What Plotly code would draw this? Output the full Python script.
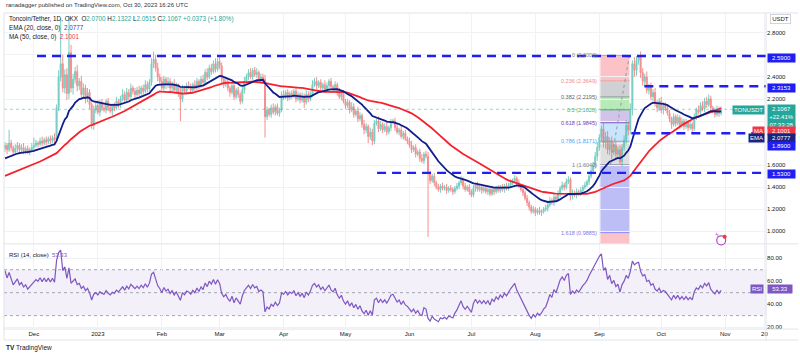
import pandas as pd
import numpy as np
import plotly.graph_objects as go

W, H = 800, 357
FONT = "Liberation Sans, Arial, sans-serif"

# ---------------- data ----------------
# closes before the visible window (used only for the moving averages / RSI warm-up)
pre_close = [1.36, 1.38, 1.35, 1.37, 1.40, 1.38, 1.36, 1.39, 1.41, 1.38,
             1.37, 1.40, 1.36, 1.35, 1.38, 1.40, 1.39, 1.37, 1.36, 1.39,
             1.41, 1.38, 1.40, 1.37, 1.39, 1.42, 1.46, 1.44, 1.48, 1.52,
             1.50, 1.55, 1.53, 1.58, 1.56, 1.60, 1.63, 1.59, 1.64, 1.62,
             1.67, 1.65, 1.70, 1.68, 1.72, 1.70, 1.75, 1.73, 1.77, 1.75]

# daily closes, 2022-11-17 .. 2023-10-30
close_vals = [
    1.78, 1.74, 1.80, 1.76, 1.72, 1.75, 1.78, 1.74, 1.76, 1.73,
    1.75, 1.72, 1.74, 1.76, 1.78, 1.80, 1.79, 1.82, 1.80, 1.83,
    1.81, 1.84, 1.82, 1.85, 1.83, 2.12, 2.40, 2.52, 2.30, 2.42,
    2.25, 2.62, 2.30, 2.38, 2.45, 2.32, 2.36, 2.24, 2.30, 2.20,
    2.26, 2.15, 1.96, 2.10, 2.14, 2.08, 2.16, 2.12, 2.10, 2.18,
    2.12, 2.09, 2.14, 2.12, 2.18, 2.15, 2.20, 2.24, 2.19, 2.26,
    2.22, 2.30, 2.27, 2.24, 2.28, 2.25, 2.30, 2.27, 2.33, 2.29,
    2.35, 2.52, 2.56, 2.48, 2.40, 2.36, 2.30, 2.38, 2.33, 2.36,
    2.30, 2.34, 2.28, 2.32, 2.26, 2.20, 2.30, 2.27, 2.32, 2.31,
    2.28, 2.33, 2.30, 2.36, 2.32, 2.38, 2.35, 2.44, 2.40, 2.48,
    2.45, 2.52, 2.47, 2.54, 2.50, 2.38, 2.33, 2.36, 2.30, 2.26,
    2.32, 2.22, 2.28, 2.24, 2.18, 2.28, 2.36, 2.40, 2.44, 2.40,
    2.46, 2.42, 2.44, 2.38, 2.40, 2.38, 2.04, 2.10, 2.06, 2.12,
    2.08, 2.13, 2.07, 2.10, 2.24, 2.22, 2.26, 2.21, 2.25, 2.23,
    2.27, 2.20, 2.24, 2.19, 2.23, 2.17, 2.24, 2.20, 2.25, 2.33,
    2.36, 2.32, 2.35, 2.30, 2.33, 2.29, 2.32, 2.36, 2.31, 2.29,
    2.33, 2.26, 2.22, 2.25, 2.18, 2.14, 2.17, 2.10, 2.13, 2.06,
    2.09, 2.02, 2.05, 1.97, 1.92, 1.95, 1.86, 1.90, 1.82, 1.98,
    2.00, 1.93, 1.97, 1.92, 1.95, 1.90, 1.94, 1.99, 2.00, 1.94,
    1.90, 1.92, 1.86, 1.89, 1.84, 1.82, 1.78, 1.74, 1.76, 1.70,
    1.72, 1.66, 1.64, 1.70, 1.68, 1.52, 1.46, 1.50, 1.44, 1.40,
    1.38, 1.41, 1.39, 1.40, 1.37, 1.39, 1.38, 1.36, 1.39, 1.41,
    1.44, 1.47, 1.41, 1.38, 1.40, 1.36, 1.33, 1.39, 1.42, 1.38,
    1.40, 1.37, 1.39, 1.36, 1.38, 1.34, 1.38, 1.36, 1.39, 1.37,
    1.40, 1.38, 1.41, 1.39, 1.42, 1.44, 1.46, 1.48, 1.44, 1.41,
    1.38, 1.35, 1.30, 1.26, 1.22, 1.18, 1.20, 1.17, 1.19, 1.17,
    1.18, 1.20, 1.21, 1.24, 1.28, 1.26, 1.31, 1.29, 1.34, 1.39,
    1.42, 1.40, 1.45, 1.47, 1.32, 1.35, 1.33, 1.36, 1.34, 1.37,
    1.40, 1.42, 1.45, 1.50, 1.55, 1.60, 1.68, 1.76, 1.85, 1.93,
    1.80, 1.86, 1.74, 1.82, 1.72, 1.78, 1.70, 1.74, 1.63, 1.76,
    1.83, 1.96, 1.92, 2.10, 2.52, 2.46, 2.55, 2.58, 2.44, 2.36,
    2.40, 2.28, 2.31, 2.22, 2.26, 2.16, 2.12, 2.18, 2.10, 2.14,
    2.12, 2.07, 2.02, 1.97, 2.04, 1.98, 2.03, 1.96, 2.00, 1.95,
    1.99, 1.94, 1.97, 1.93, 2.04, 2.10, 2.08, 2.14, 2.11, 2.18,
    2.15, 2.20, 2.12, 2.09, 2.06, 2.11, 2.0694, 2.1067]

upper_wick = [
    .03, .02, .12, .03, .02, .04, .03, .02, .03, .04,
    .02, .03, .02, .04, .07, .03, .02, .03, .04, .02,
    .03, .02, .03, .02, .04, .03, .06, .41, .08, .05,
    .06, .33, .07, .05, .04, .06, .03, .05, .04, .03,
    .04, .03, .02, .04, .03, .05, .03, .04, .03, .02,
    .03, .04, .02, .03, .04, .02, .03, .05, .03, .04,
    .03, .04, .02, .03, .03, .04, .02, .03, .04, .03,
    .03, .05, .07, .04, .05, .03, .04, .03, .02, .04,
    .03, .02, .04, .03, .02, .04, .03, .02, .03, .04,
    .03, .02, .04, .03, .02, .03, .04, .03, .04, .03,
    .04, .03, .05, .03, .04, .03, .02, .04, .03, .02,
    .03, .04, .02, .03, .02, .03, .04, .03, .03, .04,
    .02, .03, .04, .02, .03, .03, .04, .03, .02, .03,
    .04, .02, .03, .02, .03, .04, .02, .03, .02, .03,
    .02, .04, .03, .02, .03, .02, .04, .03, .02, .04,
    .03, .04, .02, .03, .02, .04, .03, .02, .03, .02,
    .03, .02, .04, .02, .03, .02, .03, .02, .04, .03,
    .02, .04, .03, .02, .04, .03, .02, .04, .03, .03,
    .02, .04, .03, .02, .03, .04, .02, .03, .02, .03,
    .03, .02, .04, .02, .03, .02, .03, .04, .02, .03,
    .02, .03, .04, .02, .03, .04, .03, .02, .03, .02,
    .03, .02, .03, .02, .03, .02, .03, .02, .02, .03,
    .02, .03, .02, .03, .02, .03, .02, .03, .02, .03,
    .02, .03, .02, .03, .02, .02, .03, .02, .02, .03,
    .02, .03, .02, .03, .02, .03, .02, .03, .02, .03,
    .02, .03, .02, .03, .02, .02, .03, .02, .02, .03,
    .02, .02, .03, .02, .03, .02, .03, .02, .03, .02,
    .03, .02, .03, .03, .02, .03, .02, .03, .02, .03,
    .02, .03, .02, .03, .04, .03, .04, .05, .03, .03,
    .06, .04, .05, .03, .04, .03, .04, .03, .04, .03,
    .04, .05, .04, .06, .03, .06, .04, .02, .05, .04,
    .03, .05, .03, .04, .03, .04, .03, .03, .04, .03,
    .03, .02, .03, .02, .03, .02, .03, .02, .03, .02,
    .03, .02, .03, .02, .03, .02, .04, .03, .04, .03,
    .04, .04, .03, .02, .03, .03, .02, .0255]

lower_wick = [
    .03, .04, .02, .03, .04, .02, .03, .04, .02, .03,
    .03, .02, .03, .02, .03, .02, .03, .02, .03, .02,
    .03, .02, .03, .02, .03, .02, .03, .04, .04, .05,
    .06, .05, .04, .06, .04, .05, .04, .05, .04, .04,
    .03, .04, .03, .04, .03, .02, .04, .03, .02, .03,
    .03, .02, .04, .03, .02, .03, .03, .02, .03, .02,
    .03, .02, .03, .04, .02, .03, .02, .03, .02, .03,
    .02, .03, .04, .03, .04, .03, .02, .03, .04, .03,
    .03, .04, .02, .03, .04, .20, .03, .02, .03, .02,
    .03, .02, .03, .02, .03, .02, .03, .02, .03, .02,
    .03, .02, .03, .02, .03, .04, .03, .02, .03, .04,
    .02, .03, .02, .03, .03, .02, .03, .02, .03, .02,
    .03, .02, .03, .02, .03, .04, .19, .03, .02, .03,
    .02, .03, .02, .03, .02, .03, .02, .03, .02, .03,
    .02, .03, .02, .03, .02, .05, .02, .03, .02, .03,
    .02, .03, .02, .03, .02, .03, .02, .03, .02, .03,
    .02, .03, .02, .03, .02, .03, .02, .03, .02, .03,
    .02, .03, .02, .03, .04, .03, .06, .03, .04, .03,
    .02, .03, .02, .03, .02, .03, .02, .03, .02, .03,
    .02, .03, .02, .03, .02, .03, .02, .03, .02, .03,
    .02, .03, .02, .03, .02, .57, .03, .02, .03, .02,
    .02, .03, .02, .02, .03, .02, .02, .03, .02, .02,
    .03, .02, .03, .02, .02, .03, .02, .02, .03, .02,
    .02, .03, .02, .02, .03, .02, .02, .03, .02, .02,
    .02, .02, .03, .02, .02, .03, .02, .02, .03, .02,
    .02, .03, .02, .03, .03, .02, .02, .03, .02, .02,
    .03, .02, .02, .03, .02, .02, .03, .02, .02, .03,
    .02, .03, .02, .02, .04, .03, .02, .03, .02, .02,
    .03, .02, .02, .03, .02, .03, .03, .04, .03, .04,
    .04, .05, .04, .05, .04, .03, .04, .03, .026, .04,
    .03, .04, .05, .04, .05, .06, .05, .04, .05, .04,
    .04, .03, .04, .03, .04, .03, .04, .03, .03, .04,
    .03, .02, .03, .04, .02, .03, .02, .03, .02, .03,
    .02, .03, .02, .03, .02, .03, .02, .03, .02, .03,
    .03, .02, .03, .02, .03, .02, .03, .0185]

history_start = "2022-09-28"

# horizontal support / resistance levels (price, start date)
sr_levels = [2.59, 2.3153, 1.89, 1.53]
sr_starts = ["2022-12-02 12:00", "2023-09-22 19:00", "2023-09-16 12:00", "2023-05-16 07:00"]
sr_labels = ["2.5900", "2.3153", "1.8900", "1.5300"]

# Fibonacci retracement
fib_high, fib_low = 2.60, 1.604
fib_ratios = [0, 0.236, 0.382, 0.5, 0.618, 0.786, 1, 1.618]
fib_text_colors = ["#787b86", "#f28b8b", "#5d606b", "#4caf50", "#673ab7", "#42a5f5", "#787b86", "#7b7bef"]
fib_line_colors = ["#787b86", "#f7a1a1", "#9598a1", "#4caf50", "#7e57c2", "#64b5f6", "#9598a1", "#8c8cf2"]
fib_fills = ["rgba(242,54,69,0.30)", "rgba(120,123,134,0.35)", "rgba(76,200,80,0.40)",
             "rgba(103,58,183,0.30)", "rgba(100,181,246,0.35)", "rgba(150,150,150,0.30)",
             "rgba(70,70,230,0.35)", "rgba(242,54,69,0.30)"]
fib_x0, fib_x1 = "2023-09-01 12:00", "2023-09-15 14:00"
fib_trend_start = "2023-09-06 10:00"

x_tick_dates = ["2022-12-01", "2023-01-01", "2023-02-01", "2023-03-01", "2023-04-01",
                "2023-05-01", "2023-06-01", "2023-07-01", "2023-08-01", "2023-09-01",
                "2023-10-01", "2023-11-01", "2023-11-20"]
x_tick_text = ["Dec", "2023", "Feb", "Mar", "Apr", "May", "Jun", "Jul", "Aug", "Sep",
               "Oct", "Nov", "20"]

price_ticks = [1.0, 1.2, 1.4, 1.6, 1.8, 2.0, 2.2, 2.4, 2.6, 2.8]
price_tick_text = ["1.0000", "1.2000", "1.4000", "1.6000", "", "", "2.2000", "2.4000", "", "2.8000"]
rsi_ticks = [20, 40, 60, 80]
rsi_tick_text = ["20.00", "40.00", "60.00", "80.00"]

header_text = "ranadagger published on TradingView.com, Oct 30, 2023 16:26 UTC"
ohlc_text = ["2.0700", "2.1322", "2.0515", "2.1067", "+0.0373 (+1.80%)"]
ema_value, ma_value, rsi_value = "2.0777", "2.1001", "53.33"
last_price = 2.1067
price_box = ["2.1067", "+22.41%", "07:33:28"]

# ---------------- computations ----------------
all_close = pre_close + close_vals
dates = pd.date_range(history_start, periods=len(all_close), freq="D")
cs = pd.Series(all_close, index=dates)
op = cs.shift(1)
op.iloc[0] = cs.iloc[0]
ema = cs.ewm(span=20, adjust=False).mean()
ma = cs.rolling(50, min_periods=1).mean()
delta = cs.diff().fillna(0)
gain = delta.clip(lower=0)
loss = -delta.clip(upper=0)
ag = gain.ewm(alpha=1 / 14, adjust=False).mean()
al = loss.ewm(alpha=1 / 14, adjust=False).mean()
rsi = 100 - 100 / (1 + ag / al)

n_pre = len(pre_close)
vd = dates[n_pre:]
vo = op.values[n_pre:]
vc = cs.values[n_pre:]
vh = np.maximum(vo, vc) + np.array(upper_wick)
vl = np.minimum(vo, vc) - np.array(lower_wick)

# ---------------- layout geometry (pixels) ----------------
def py(p):
    return 1 - p / H

def pxx(p):
    return p / W

AX_X = 768          # left edge of price scale
MAIN_TOP, MAIN_BOT = 13, 244.5
RSI_TOP, RSI_BOT = 244.5, 330
x_left = pd.Timestamp("2022-11-16 12:30")
x_right = pd.Timestamp("2023-11-20 19:00")

fig = go.Figure()
fig.add_trace(go.Candlestick(
    x=vd, open=vo, high=vh, low=vl, close=vc,
    increasing=dict(line=dict(color="#4cbcae", width=1), fillcolor="#4cbcae"),
    decreasing=dict(line=dict(color="#f26b69", width=1), fillcolor="#f26b69"),
    whiskerwidth=0, opacity=0.75, xaxis="x", yaxis="y", showlegend=False,
    hoverinfo="skip"))
fig.add_trace(go.Scatter(x=vd, y=ma.values[n_pre:], mode="lines",
                         line=dict(color="#f5222d", width=1.8), xaxis="x", yaxis="y",
                         showlegend=False, hoverinfo="skip"))
fig.add_trace(go.Scatter(x=vd, y=ema.values[n_pre:], mode="lines",
                         line=dict(color="#101e8a", width=1.8), xaxis="x", yaxis="y",
                         showlegend=False, hoverinfo="skip"))
fig.add_trace(go.Scatter(x=vd, y=rsi.values[n_pre:], mode="lines",
                         line=dict(color="#7e57c2", width=1.2), xaxis="x2", yaxis="y2",
                         showlegend=False, hoverinfo="skip"))

shapes = []
anns = []
GRID = "#f0f2f6"
BORDER = "#e0e3eb"

# RSI band and guide lines
shapes.append(dict(type="rect", xref="paper", yref="y2", x0=pxx(4), x1=pxx(AX_X), y0=30, y1=70,
                   fillcolor="rgba(126,87,194,0.09)", line=dict(width=0), layer="below"))
for lv in (70, 50, 30):
    shapes.append(dict(type="line", xref="paper", yref="y2", x0=pxx(4), x1=pxx(AX_X), y0=lv, y1=lv,
                       line=dict(color="#a3a6af", width=1, dash="dot"), layer="below"))

# Fibonacci boxes
fib_prices = [fib_high - r * (fib_high - fib_low) for r in fib_ratios]
bounds = fib_prices + [0.5]
for i in range(len(fib_prices)):
    shapes.append(dict(type="rect", xref="x", yref="y", x0=fib_x0, x1=fib_x1,
                       y0=bounds[i + 1], y1=bounds[i], fillcolor=fib_fills[i],
                       line=dict(width=0), layer="below"))
for i, p in enumerate(fib_prices):
    shapes.append(dict(type="line", xref="x", yref="y", x0=fib_x0, x1=fib_x1, y0=p, y1=p,
                       line=dict(color=fib_line_colors[i], width=1), layer="below"))
    anns.append(dict(text=f"{fib_ratios[i]:g} ({p:.4f})", xref="x", yref="y", x=fib_x0, y=p,
                     xanchor="right", yanchor="middle", xshift=-1, showarrow=False,
                     font=dict(size=5.5, color=fib_text_colors[i], family=FONT)))
shapes.append(dict(type="line", xref="x", yref="y", x0=fib_trend_start, x1=fib_x1,
                   y0=fib_low, y1=fib_high, line=dict(color="#9598a1", width=1, dash="dot")))

# last price line
shapes.append(dict(type="line", xref="paper", yref="y", x0=pxx(4), x1=pxx(AX_X),
                   y0=last_price, y1=last_price,
                   line=dict(color="rgba(38,166,154,0.45)", width=1, dash="dot")))

# support / resistance dashed lines
for lv, st in zip(sr_levels, sr_starts):
    shapes.append(dict(type="line", xref="x", yref="y", x0=st, x1=x_right, y0=lv, y1=lv,
                       line=dict(color="#1e1ef5", width=2.4, dash="9px,6px"), layer="above"))

# frame
for yy in (MAIN_TOP, MAIN_BOT, RSI_BOT, 341):
    shapes.append(dict(type="line", xref="paper", yref="paper", x0=pxx(4), x1=1,
                       y0=py(yy), y1=py(yy), line=dict(color=BORDER, width=1)))
for xx in (4, AX_X):
    shapes.append(dict(type="line", xref="paper", yref="paper", x0=pxx(xx), x1=pxx(xx),
                       y0=py(341), y1=py(MAIN_TOP), line=dict(color=BORDER, width=1)))

# event icon
shapes.append(dict(type="circle", xref="paper", yref="paper",
                   x0=pxx(718.5), x1=pxx(727.5), y0=py(245.5), y1=py(236.5),
                   line=dict(color="#b04bc8", width=1.2), fillcolor="white"))
shapes.append(dict(type="circle", xref="paper", yref="paper",
                   x0=pxx(724.5), x1=pxx(728.5), y0=py(239.5), y1=py(235.5),
                   line=dict(width=0), fillcolor="#f23645"))
anns.append(dict(text="ϟ", xref="paper", yref="paper", x=pxx(723), y=py(241), showarrow=False,
                 font=dict(size=6, color="#b04bc8", family="DejaVu Sans")))

# header & legends
anns.append(dict(text=header_text, xref="paper", yref="paper", x=pxx(4), y=py(5.5),
                 xanchor="left", yanchor="middle", showarrow=False,
                 font=dict(size=6, color="#333333", family=FONT)))
tc = "#26a69a"
l1 = ("Toncoin/Tether, 1D, OKX  "
      f"O<span style='color:{tc}'>{ohlc_text[0]}</span> "
      f"H<span style='color:{tc}'>{ohlc_text[1]}</span> "
      f"L<span style='color:{tc}'>{ohlc_text[2]}</span> "
      f"C<span style='color:{tc}'>{ohlc_text[3]}</span> "
      f"<span style='color:{tc}'>{ohlc_text[4]}</span>")
anns.append(dict(text=l1, xref="paper", yref="paper", x=pxx(7), y=py(19.5), xanchor="left",
                 yanchor="middle", showarrow=False, font=dict(size=6.3, color="#131722", family=FONT)))
anns.append(dict(text=f"EMA (20, close, 0)  <span style='color:#2a3cc0'>{ema_value}</span>",
                 xref="paper", yref="paper", x=pxx(7), y=py(28.5), xanchor="left", yanchor="middle",
                 showarrow=False, font=dict(size=6.3, color="#131722", family=FONT)))
anns.append(dict(text=f"MA (50, close, 0)  <span style='color:#f23645'>{ma_value}</span>",
                 xref="paper", yref="paper", x=pxx(7), y=py(37.5), xanchor="left", yanchor="middle",
                 showarrow=False, font=dict(size=6.3, color="#131722", family=FONT)))
anns.append(dict(text=f"RSI (14, close)  <span style='color:#7e57c2'>{rsi_value}</span>",
                 xref="paper", yref="paper", x=pxx(7), y=py(255.5), xanchor="left", yanchor="middle",
                 showarrow=False, font=dict(size=6, color="#131722", family=FONT)))
anns.append(dict(text="<b>TV</b> TradingView", xref="paper", yref="paper", x=pxx(4), y=py(349),
                 xanchor="left", yanchor="middle", showarrow=False,
                 font=dict(size=6.5, color="#131722", family=FONT)))

# price-scale tags
def tag(text, ypix, bg, xpix=AX_X + 1, anchor="left", width=None, fc="white", size=6):
    d = dict(text=text, xref="paper", yref="paper", x=pxx(xpix), y=py(ypix), xanchor=anchor,
             yanchor="middle", showarrow=False, font=dict(size=size, color=fc, family=FONT),
             bgcolor=bg, borderpad=1)
    if width:
        d["width"] = width
    anns.append(d)

BLUE = "#1e1ef5"
tag("USDT", 19.5, "white", xpix=772, fc="#131722", width=17)
anns[-1].update(bordercolor="#d1d4dc", borderwidth=1)
tag(sr_labels[0], 58.5, BLUE, width=25)
tag(sr_labels[1], 88.5, BLUE, width=25)
tag("<br>".join(price_box), 117, "#26a69a", width=25)
tag("TONUSDT", 110.5, "#26a69a", xpix=AX_X - 1, anchor="right")
tag(ma_value, 131, "#f23645", width=25)
tag("MA", 131, "#f23645", xpix=AX_X - 1, anchor="right")
tag(ema_value, 138, "#1a237e", width=25)
tag("EMA", 138, "#1a237e", xpix=AX_X - 1, anchor="right")
tag(sr_labels[2], 146, BLUE, width=25)
tag(sr_labels[3], 174.5, BLUE, width=25)
tag(rsi_value, 290, "#7e57c2", width=22)
tag("RSI", 290, "#7e57c2", xpix=AX_X - 2, anchor="right")

fig.update_layout(
    width=W, height=H, margin=dict(l=0, r=0, t=0, b=0),
    paper_bgcolor="white", plot_bgcolor="white",
    font=dict(family=FONT, size=6, color="#131722"),
    showlegend=False, shapes=shapes, annotations=anns,
    xaxis=dict(domain=[pxx(4), pxx(AX_X)], range=[x_left, x_right], anchor="y",
               showticklabels=False, showgrid=True, gridcolor=GRID, tickvals=x_tick_dates,
               zeroline=False, showline=False, rangeslider=dict(visible=False), fixedrange=True),
    xaxis2=dict(domain=[pxx(4), pxx(AX_X)], range=[x_left, x_right], anchor="y2", matches="x",
                tickvals=x_tick_dates, ticktext=x_tick_text, showgrid=True, gridcolor=GRID,
                ticks="", tickfont=dict(size=6, color="#131722", family=FONT),
                zeroline=False, showline=False),
    yaxis=dict(domain=[py(MAIN_BOT), py(MAIN_TOP)],
               range=[(342.6 - MAIN_BOT) / 110.6, (342.6 - MAIN_TOP) / 110.6],
               side="right", anchor="x", tickvals=price_ticks, ticktext=price_tick_text,
               showgrid=True, gridcolor=GRID, zeroline=False, ticks="",
               tickfont=dict(size=6, color="#131722", family=FONT)),
    yaxis2=dict(domain=[py(RSI_BOT), py(RSI_TOP)],
                range=[80 - (RSI_BOT - 259) / 1.15, 80 + (259 - RSI_TOP) / 1.15],
                side="right", anchor="x2", tickvals=rsi_ticks, ticktext=rsi_tick_text,
                showgrid=True, gridcolor=GRID, zeroline=False, ticks="",
                tickfont=dict(size=6, color="#131722", family=FONT)),
)

fig.write_html("out.html", config={"displayModeBar": False},
               post_script="document.body.style.margin='0';document.body.style.overflow='hidden';")
